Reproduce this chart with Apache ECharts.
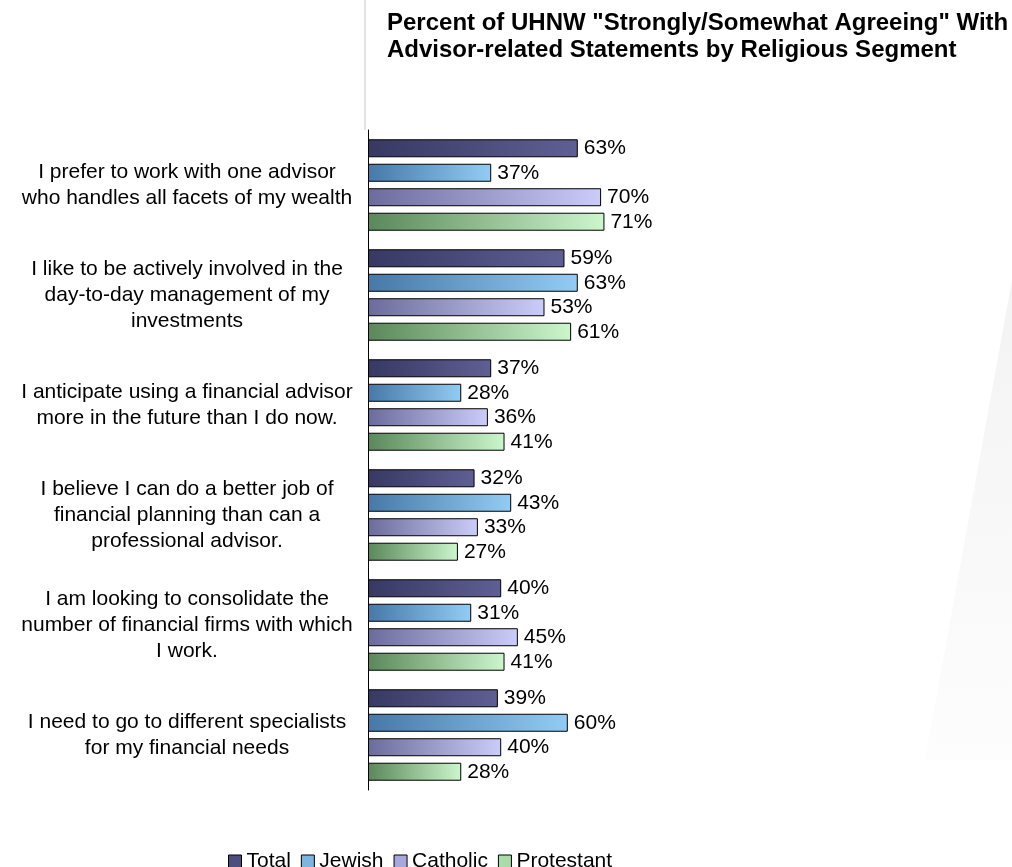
<!DOCTYPE html>
<html><head><meta charset="utf-8">
<script src="https://cdn.jsdelivr.net/npm/echarts@6/dist/echarts.min.js"></script>
<style>html,body{margin:0;padding:0;background:#fff}#c{width:1012px;height:867px}</style>
</head><body><div id="c"></div>
<script>
const categories = [
  "I prefer to work with one advisor\nwho handles all facets of my wealth",
  "I like to be actively involved in the\nday-to-day management of my\ninvestments",
  "I anticipate using a financial advisor\nmore in the future than I do now.",
  "I believe I can do a better job of\nfinancial planning than can a\nprofessional advisor.",
  "I am looking to consolidate the\nnumber of financial firms with which\nI work.",
  "I need to go to different specialists\nfor my financial needs"
];
const seriesNames = ["Total", "Jewish", "Catholic", "Protestant"];
const total = [63, 59, 37, 32, 40, 39];
const jewish = [37, 63, 28, 43, 31, 60];
const catholic = [70, 53, 36, 33, 45, 40];
const protestant = [71, 61, 41, 27, 41, 28];
const values = [total, jewish, catholic, protestant];
const gradStops = [
  ["#383863", "#5f5f94"],
  ["#4678a8", "#92ccf4"],
  ["#6c6c9c", "#ccccfa"],
  ["#5a885a", "#ccf6cc"]
];
const legendColors = ["#4e4e7e", "#7eb4e0", "#a8a8da", "#a8dca8"];
const chart = echarts.init(document.getElementById('c'));
const font = "Liberation Sans, Arial, sans-serif";
chart.setOption({
  animation: false,
  backgroundColor: '#fff',
  title: {
    text: 'Percent of UHNW "Strongly/Somewhat Agreeing" With\nAdvisor-related Statements by Religious Segment',
    left: 382, top: 5,
    textStyle: { fontFamily: font, fontSize: 24, fontWeight: 'bold', color: '#000', lineHeight: 27 }
  },
  legend: {
    top: 846, left: 223,
    itemWidth: 13, itemHeight: 13, itemGap: 10,
    icon: 'rect',
    textStyle: { fontFamily: font, fontSize: 21, color: '#000' },
    data: seriesNames.map((n, i) => ({ name: n, itemStyle: { color: legendColors[i], borderColor: '#000', borderWidth: 1 } }))
  },
  graphic: [
    { type: 'line', shape: { x1: 365, y1: 0, x2: 365, y2: 130 }, style: { stroke: '#c8c8c8', lineWidth: 1 } },
    { type: 'polygon', z: -10, shape: { points: [[1012, 280], [1012, 760], [925, 760]] },
      style: { fill: { type: 'linear', x: 0, y: 0, x2: 0, y2: 1, colorStops: [{ offset: 0, color: '#f3f3f3' }, { offset: 1, color: '#fdfdfd' }] } } }
  ],
  grid: { left: 368, top: 130, width: 333, height: 660, containLabel: false },
  xAxis: { type: 'value', min: 0, max: 100, show: false },
  yAxis: {
    type: 'category', inverse: true, data: categories,
    axisLine: { show: true, lineStyle: { color: '#000', width: 1 } },
    axisTick: { show: false },
    axisLabel: { align: 'center', margin: 181, fontFamily: font, fontSize: 21, color: '#000', lineHeight: 26 }
  },
  series: values.map((v, i) => ({
    name: seriesNames[i], type: 'bar', data: v,
    barWidth: 18, barGap: '36%', barCategoryGap: '17%',
    itemStyle: {
      borderColor: '#000', borderWidth: 1,
      color: { type: 'linear', x: 0, y: 0, x2: 1, y2: 0, colorStops: [{ offset: 0, color: gradStops[i][0] }, { offset: 1, color: gradStops[i][1] }] }
    },
    label: { show: true, position: 'right', distance: 6, formatter: '{c}%', fontFamily: font, fontSize: 21, color: '#000' }
  }))
});
</script></body></html>
